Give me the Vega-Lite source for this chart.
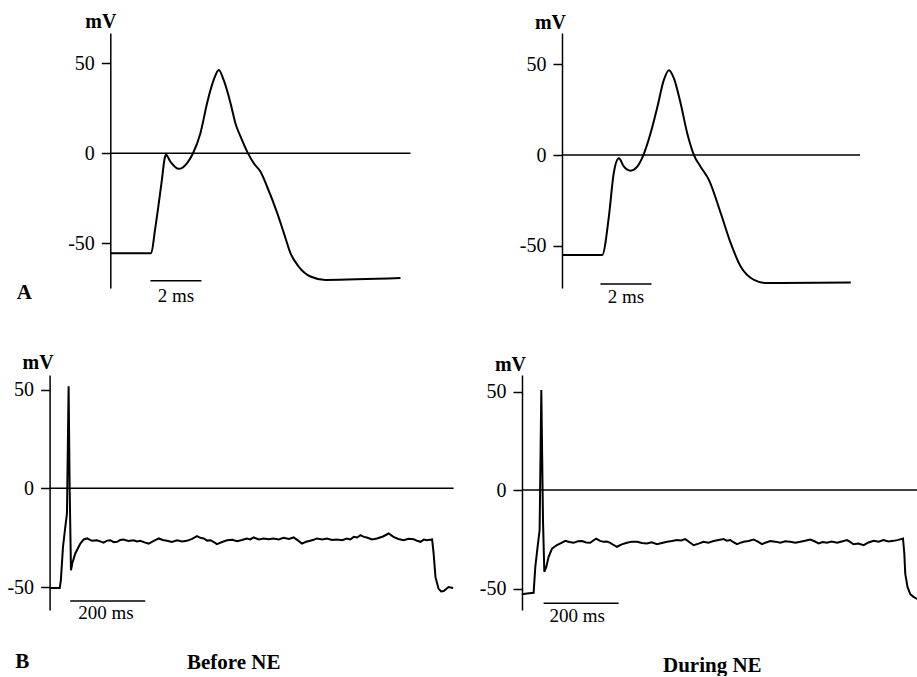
{
  "$schema": "https://vega.github.io/schema/vega-lite/v6.json",
  "background": "white",
  "padding": {"left": 6.6, "top": 11, "right": 0, "bottom": 0},
  "bounds": "flush",
  "columns": 2,
  "spacing": {"row": 87, "column": 68.4},
  "config": {
    "view": {"stroke": null},
    "font": "Liberation Serif",
    "axis": {
      "grid": false,
      "domainColor": "black",
      "domainWidth": 1.5,
      "tickColor": "black",
      "tickWidth": 1.5,
      "tickSize": 9,
      "labelFont": "Liberation Serif",
      "labelFontSize": 20,
      "labelColor": "black",
      "labelPadding": 7,
      "labelExpr": "'' + datum.value",
      "titleFont": "Liberation Serif",
      "titleFontSize": 20,
      "titleFontWeight": "bold",
      "titleColor": "black",
      "titleAngle": 0,
      "titleAlign": "center",
      "titleBaseline": "middle"
    }
  },
  "datasets": {
    "apBefore": [
      {"t": 0, "mV": -55.6}, {"t": 1.6, "mV": -55.6}, {"t": 1.75, "mV": -42.6}, {"t": 2.02, "mV": -14.8},
      {"t": 2.13, "mV": -2.8}, {"t": 2.18, "mV": -0.9}, {"t": 2.35, "mV": -4.6}, {"t": 2.68, "mV": -8.7},
      {"t": 3.0, "mV": -5.6}, {"t": 3.24, "mV": 0}, {"t": 3.53, "mV": 11.1}, {"t": 3.79, "mV": 27.8},
      {"t": 4.05, "mV": 40.7}, {"t": 4.25, "mV": 46.3}, {"t": 4.44, "mV": 40.7}, {"t": 4.71, "mV": 27.8},
      {"t": 4.9, "mV": 16.7}, {"t": 5.1, "mV": 9.3}, {"t": 5.36, "mV": 0.9}, {"t": 5.62, "mV": -5.6},
      {"t": 5.88, "mV": -10.2}, {"t": 6.14, "mV": -18.5}, {"t": 6.54, "mV": -33.3}, {"t": 6.8, "mV": -44.4},
      {"t": 7.06, "mV": -55.6}, {"t": 7.38, "mV": -63}, {"t": 7.84, "mV": -68.5}, {"t": 8.43, "mV": -70.4},
      {"t": 11.37, "mV": -69.4}
    ],
    "apDuring": [
      {"t": 0, "mV": -55.1}, {"t": 1.57, "mV": -55.1}, {"t": 1.83, "mV": -34}, {"t": 2.02, "mV": -10.1},
      {"t": 2.22, "mV": -1.8}, {"t": 2.42, "mV": -6.4}, {"t": 2.68, "mV": -8.6}, {"t": 2.94, "mV": -6.4},
      {"t": 3.18, "mV": 0}, {"t": 3.46, "mV": 11.9}, {"t": 3.73, "mV": 26.6}, {"t": 3.98, "mV": 41.3},
      {"t": 4.18, "mV": 46.8}, {"t": 4.38, "mV": 42.2}, {"t": 4.64, "mV": 28.4}, {"t": 4.9, "mV": 11.9},
      {"t": 5.16, "mV": 0}, {"t": 5.42, "mV": -6.4}, {"t": 5.75, "mV": -13.8}, {"t": 6.21, "mV": -32.1},
      {"t": 6.6, "mV": -48.6}, {"t": 6.99, "mV": -61.5}, {"t": 7.51, "mV": -68.8}, {"t": 8.04, "mV": -70.6},
      {"t": 11.3, "mV": -70.3}
    ],
    "trainBefore": [
      {"t": 0, "mV": -50.5}, {"t": 27, "mV": -50.5}, {"t": 30, "mV": -46.6}, {"t": 35.7, "mV": -29.7},
      {"t": 41.9, "mV": -19.5}, {"t": 46.3, "mV": -12.7}, {"t": 50.7, "mV": 51.7}, {"t": 53.4, "mV": 0.8},
      {"t": 57, "mV": -41.5}, {"t": 60.5, "mV": -38}, {"t": 68.5, "mV": -33}, {"t": 82, "mV": -28},
      {"t": 91, "mV": -25.9}, {"t": 100, "mV": -25.4}, {"t": 113, "mV": -26.6}, {"t": 126, "mV": -26.3},
      {"t": 135, "mV": -26.9}, {"t": 144, "mV": -27.5}, {"t": 153, "mV": -26.5}, {"t": 162, "mV": -26.3},
      {"t": 171, "mV": -27.3}, {"t": 180, "mV": -27.1}, {"t": 188, "mV": -26.2}, {"t": 197, "mV": -25.9},
      {"t": 210, "mV": -26.7}, {"t": 224, "mV": -26.3}, {"t": 233, "mV": -26.9}, {"t": 242, "mV": -26.6},
      {"t": 253, "mV": -27.4}, {"t": 264, "mV": -28}, {"t": 278, "mV": -26.6}, {"t": 291, "mV": -25.4},
      {"t": 302, "mV": -26.2}, {"t": 313, "mV": -26.6}, {"t": 326, "mV": -27.2}, {"t": 340, "mV": -26.3},
      {"t": 353, "mV": -26.9}, {"t": 366, "mV": -26.6}, {"t": 380, "mV": -25.6}, {"t": 393, "mV": -24.2},
      {"t": 402, "mV": -25.1}, {"t": 411, "mV": -25.4}, {"t": 420, "mV": -26.5}, {"t": 429, "mV": -26.3},
      {"t": 438, "mV": -27.2}, {"t": 446, "mV": -28.3}, {"t": 460, "mV": -27.2}, {"t": 473, "mV": -26.3},
      {"t": 487, "mV": -26.1}, {"t": 500, "mV": -26.8}, {"t": 513, "mV": -26.2}, {"t": 526, "mV": -25.4},
      {"t": 535, "mV": -25.9}, {"t": 544, "mV": -24.9}, {"t": 558, "mV": -25.9}, {"t": 571, "mV": -25.4},
      {"t": 584, "mV": -25.8}, {"t": 597, "mV": -25.4}, {"t": 611, "mV": -25.9}, {"t": 624, "mV": -25.1},
      {"t": 638, "mV": -25.7}, {"t": 651, "mV": -24.9}, {"t": 662, "mV": -26.4}, {"t": 673, "mV": -28},
      {"t": 684, "mV": -27.1}, {"t": 695, "mV": -26.6}, {"t": 704, "mV": -26.1}, {"t": 713, "mV": -25.4},
      {"t": 727, "mV": -25.9}, {"t": 740, "mV": -25.4}, {"t": 753, "mV": -26.2}, {"t": 766, "mV": -25.9},
      {"t": 780, "mV": -26.3}, {"t": 793, "mV": -25.4}, {"t": 802, "mV": -25.9}, {"t": 811, "mV": -24.6},
      {"t": 820, "mV": -24.9}, {"t": 829, "mV": -23.7}, {"t": 838, "mV": -24.6}, {"t": 846, "mV": -24.9},
      {"t": 860, "mV": -25.9}, {"t": 873, "mV": -25.4}, {"t": 889, "mV": -24.4}, {"t": 904, "mV": -22.9},
      {"t": 917, "mV": -24.6}, {"t": 930, "mV": -25.7}, {"t": 944, "mV": -26.3}, {"t": 957, "mV": -25.6},
      {"t": 971, "mV": -25.8}, {"t": 980, "mV": -26.6}, {"t": 989, "mV": -27.1}, {"t": 998, "mV": -26.0},
      {"t": 1006, "mV": -26.3}, {"t": 1020, "mV": -25.9}, {"t": 1024, "mV": -33}, {"t": 1029, "mV": -45},
      {"t": 1037, "mV": -50.8}, {"t": 1044, "mV": -52.2}, {"t": 1051, "mV": -52}, {"t": 1064, "mV": -50},
      {"t": 1076, "mV": -50.5}
    ],
    "trainDuring": [
      {"t": 0, "mV": -52.9}, {"t": 13.3, "mV": -52.5}, {"t": 31, "mV": -52.2}, {"t": 35.5, "mV": -39},
      {"t": 41.6, "mV": -28.8}, {"t": 47, "mV": -20.3}, {"t": 51.5, "mV": 50.8}, {"t": 56, "mV": -15.3},
      {"t": 59.5, "mV": -41.5}, {"t": 64.8, "mV": -39}, {"t": 71, "mV": -33.9}, {"t": 80, "mV": -29.7},
      {"t": 93, "mV": -28}, {"t": 104, "mV": -26.9}, {"t": 115.5, "mV": -25.8}, {"t": 126, "mV": -26.4},
      {"t": 137.6, "mV": -26.8}, {"t": 149, "mV": -26.0}, {"t": 160, "mV": -25.9}, {"t": 171, "mV": -26.6},
      {"t": 182, "mV": -26.8}, {"t": 190, "mV": -25.6}, {"t": 198, "mV": -24.7}, {"t": 208, "mV": -25.8},
      {"t": 217.6, "mV": -26.3}, {"t": 226, "mV": -26.1}, {"t": 235.5, "mV": -26.8}, {"t": 244, "mV": -27.9},
      {"t": 253, "mV": -28.8}, {"t": 266, "mV": -27.6}, {"t": 280, "mV": -26.8}, {"t": 293, "mV": -26.2},
      {"t": 306.7, "mV": -26.3}, {"t": 320, "mV": -26.9}, {"t": 333, "mV": -27.1}, {"t": 346, "mV": -26.5},
      {"t": 360, "mV": -27.5}, {"t": 373, "mV": -26.9}, {"t": 386.7, "mV": -26.3}, {"t": 400, "mV": -25.9},
      {"t": 413, "mV": -25.4}, {"t": 424, "mV": -25.6}, {"t": 435.5, "mV": -24.9}, {"t": 446, "mV": -26.4},
      {"t": 457.6, "mV": -28}, {"t": 471, "mV": -27.2}, {"t": 484, "mV": -26.3}, {"t": 497, "mV": -26.7},
      {"t": 511, "mV": -25.9}, {"t": 524, "mV": -25.4}, {"t": 537.6, "mV": -24.9}, {"t": 546, "mV": -25.7},
      {"t": 555.5, "mV": -25.4}, {"t": 564, "mV": -26.5}, {"t": 573, "mV": -27.5}, {"t": 582, "mV": -26.8},
      {"t": 591, "mV": -26.3}, {"t": 604, "mV": -25.9}, {"t": 617.6, "mV": -25.1}, {"t": 629, "mV": -26.2},
      {"t": 640, "mV": -27.5}, {"t": 651, "mV": -26.6}, {"t": 662, "mV": -25.9}, {"t": 675, "mV": -26.2},
      {"t": 688.8, "mV": -26.8}, {"t": 702, "mV": -26.0}, {"t": 715.5, "mV": -26.3}, {"t": 729, "mV": -26.8},
      {"t": 742, "mV": -26.3}, {"t": 755, "mV": -25.7}, {"t": 768.8, "mV": -25.1}, {"t": 780, "mV": -26.0},
      {"t": 791, "mV": -27.1}, {"t": 802, "mV": -26.4}, {"t": 813, "mV": -26.8}, {"t": 826, "mV": -26.2},
      {"t": 840, "mV": -26.8}, {"t": 853, "mV": -26.1}, {"t": 866.7, "mV": -25.4}, {"t": 875, "mV": -26.3},
      {"t": 884, "mV": -27.5}, {"t": 897, "mV": -27.2}, {"t": 911, "mV": -28}, {"t": 924, "mV": -26.6},
      {"t": 937.6, "mV": -25.8}, {"t": 951, "mV": -26.2}, {"t": 964, "mV": -25.4}, {"t": 977, "mV": -26.1},
      {"t": 991, "mV": -25.8}, {"t": 1004, "mV": -25.3}, {"t": 1016, "mV": -24.6}, {"t": 1019.5, "mV": -32.2},
      {"t": 1022, "mV": -42.4}, {"t": 1028, "mV": -49.2}, {"t": 1035.5, "mV": -52.9}, {"t": 1044, "mV": -54.2},
      {"t": 1054, "mV": -55.3}
    ]
  },
  "concat": [
    {
      "width": 404,
      "height": 255,
      "encoding": {
        "x": {"type": "quantitative", "scale": {"domain": [-2.38, 13.45], "nice": false, "zero": false}, "axis": null},
        "y": {
          "type": "quantitative",
          "scale": {"domain": [-74.9, 66.8], "nice": false, "zero": false},
          "axis": {"values": [-50, 0, 50], "title": "mV", "titleX": -10, "titleY": -12, "offset": -60.7}
        }
      },
      "layer": [
        {
          "data": {"name": "apBefore"},
          "mark": {"type": "line", "color": "black", "strokeWidth": 2, "interpolate": "monotone"},
          "encoding": {"x": {"field": "t"}, "y": {"field": "mV"}}
        },
        {
          "data": {"values": [{}]},
          "mark": {"type": "rule", "color": "black", "strokeWidth": 1.5},
          "encoding": {"x": {"datum": 0}, "x2": {"datum": 11.76}, "y": {"datum": 0}}
        },
        {
          "data": {"values": [{}]},
          "mark": {"type": "rule", "color": "black", "strokeWidth": 1.5},
          "encoding": {"x": {"datum": 1.57}, "x2": {"datum": 3.57}, "y": {"datum": -70.9}}
        },
        {
          "data": {"values": [{"label": "2 ms", "t": 2.57, "mV": -79.6}]},
          "mark": {"type": "text", "color": "black", "baseline": "middle", "align": "center", "fontSize": 19},
          "encoding": {"x": {"field": "t"}, "y": {"field": "mV"}, "text": {"field": "label"}}
        },
        {
          "data": {"values": [{"label": "A", "t": -3.37, "mV": -77.6}]},
          "mark": {"type": "text", "color": "black", "baseline": "middle", "align": "center", "fontSize": 21, "fontWeight": "bold"},
          "encoding": {"x": {"field": "t"}, "y": {"field": "mV"}, "text": {"field": "label"}}
        }
      ]
    },
    {
      "width": 396,
      "height": 255,
      "encoding": {
        "x": {"type": "quantitative", "scale": {"domain": [-1.57, 13.93], "nice": false, "zero": false}, "axis": null},
        "y": {
          "type": "quantitative",
          "scale": {"domain": [-73.3, 67.3], "nice": false, "zero": false},
          "axis": {"values": [-50, 0, 50], "title": "mV", "titleX": -12, "titleY": -11, "offset": -40}
        }
      },
      "layer": [
        {
          "data": {"name": "apDuring"},
          "mark": {"type": "line", "color": "black", "strokeWidth": 2, "interpolate": "monotone"},
          "encoding": {"x": {"field": "t"}, "y": {"field": "mV"}}
        },
        {
          "data": {"values": [{}]},
          "mark": {"type": "rule", "color": "black", "strokeWidth": 1.5},
          "encoding": {"x": {"datum": 0}, "x2": {"datum": 11.66}, "y": {"datum": 0}}
        },
        {
          "data": {"values": [{}]},
          "mark": {"type": "rule", "color": "black", "strokeWidth": 1.5},
          "encoding": {"x": {"datum": 1.5}, "x2": {"datum": 3.5}, "y": {"datum": -71.1}}
        },
        {
          "data": {"values": [{"label": "2 ms", "t": 2.5, "mV": -78.3}]},
          "mark": {"type": "text", "color": "black", "baseline": "middle", "align": "center", "fontSize": 19},
          "encoding": {"x": {"field": "t"}, "y": {"field": "mV"}, "text": {"field": "label"}}
        }
      ]
    },
    {
      "width": 404,
      "height": 235,
      "encoding": {
        "x": {"type": "quantitative", "scale": {"domain": [0, 1077.3], "nice": false, "zero": false}, "axis": null},
        "y": {
          "type": "quantitative",
          "scale": {"domain": [-61.65, 57.4], "nice": false, "zero": false},
          "axis": {"values": [-50, 0, 50], "title": "mV", "titleX": -12, "titleY": -12}
        }
      },
      "layer": [
        {
          "data": {"name": "trainBefore"},
          "mark": {"type": "line", "color": "black", "strokeWidth": 2},
          "encoding": {"x": {"field": "t"}, "y": {"field": "mV"}}
        },
        {
          "data": {"values": [{}]},
          "mark": {"type": "rule", "color": "black", "strokeWidth": 1.5},
          "encoding": {"x": {"datum": 0}, "x2": {"datum": 1077.3}, "y": {"datum": 0}}
        },
        {
          "data": {"values": [{}]},
          "mark": {"type": "rule", "color": "black", "strokeWidth": 1.5},
          "encoding": {"x": {"datum": 55}, "x2": {"datum": 255}, "y": {"datum": -57.1}}
        },
        {
          "data": {"values": [{"label": "200 ms", "t": 150, "mV": -63.4}]},
          "mark": {"type": "text", "color": "black", "baseline": "middle", "align": "center", "fontSize": 19},
          "encoding": {"x": {"field": "t"}, "y": {"field": "mV"}, "text": {"field": "label"}}
        },
        {
          "data": {"values": [{"label": "B", "t": -72.8, "mV": -88}, {"label": "Before NE", "t": 491, "mV": -88.3}]},
          "mark": {"type": "text", "color": "black", "baseline": "middle", "align": "center", "fontSize": 21, "fontWeight": "bold"},
          "encoding": {"x": {"field": "t"}, "y": {"field": "mV"}, "text": {"field": "label"}}
        }
      ]
    },
    {
      "width": 396,
      "height": 235,
      "encoding": {
        "x": {"type": "quantitative", "scale": {"domain": [0, 1056], "nice": false, "zero": false}, "axis": null},
        "y": {
          "type": "quantitative",
          "scale": {"domain": [-60.9, 58.4], "nice": false, "zero": false},
          "axis": {"values": [-50, 0, 50], "title": "mV", "titleX": -12, "titleY": -10}
        }
      },
      "layer": [
        {
          "data": {"name": "trainDuring"},
          "mark": {"type": "line", "color": "black", "strokeWidth": 2},
          "encoding": {"x": {"field": "t"}, "y": {"field": "mV"}}
        },
        {
          "data": {"values": [{}]},
          "mark": {"type": "rule", "color": "black", "strokeWidth": 1.5},
          "encoding": {"x": {"datum": 0}, "x2": {"datum": 1056}, "y": {"datum": 0}}
        },
        {
          "data": {"values": [{}]},
          "mark": {"type": "rule", "color": "black", "strokeWidth": 1.5},
          "encoding": {"x": {"datum": 57.6}, "x2": {"datum": 257.6}, "y": {"datum": -57.5}}
        },
        {
          "data": {"values": [{"label": "200 ms", "t": 147, "mV": -63.7}]},
          "mark": {"type": "text", "color": "black", "baseline": "middle", "align": "center", "fontSize": 19},
          "encoding": {"x": {"field": "t"}, "y": {"field": "mV"}, "text": {"field": "label"}}
        },
        {
          "data": {"values": [{"label": "During NE", "t": 507.5, "mV": -89.3}]},
          "mark": {"type": "text", "color": "black", "baseline": "middle", "align": "center", "fontSize": 21, "fontWeight": "bold"},
          "encoding": {"x": {"field": "t"}, "y": {"field": "mV"}, "text": {"field": "label"}}
        }
      ]
    }
  ]
}
